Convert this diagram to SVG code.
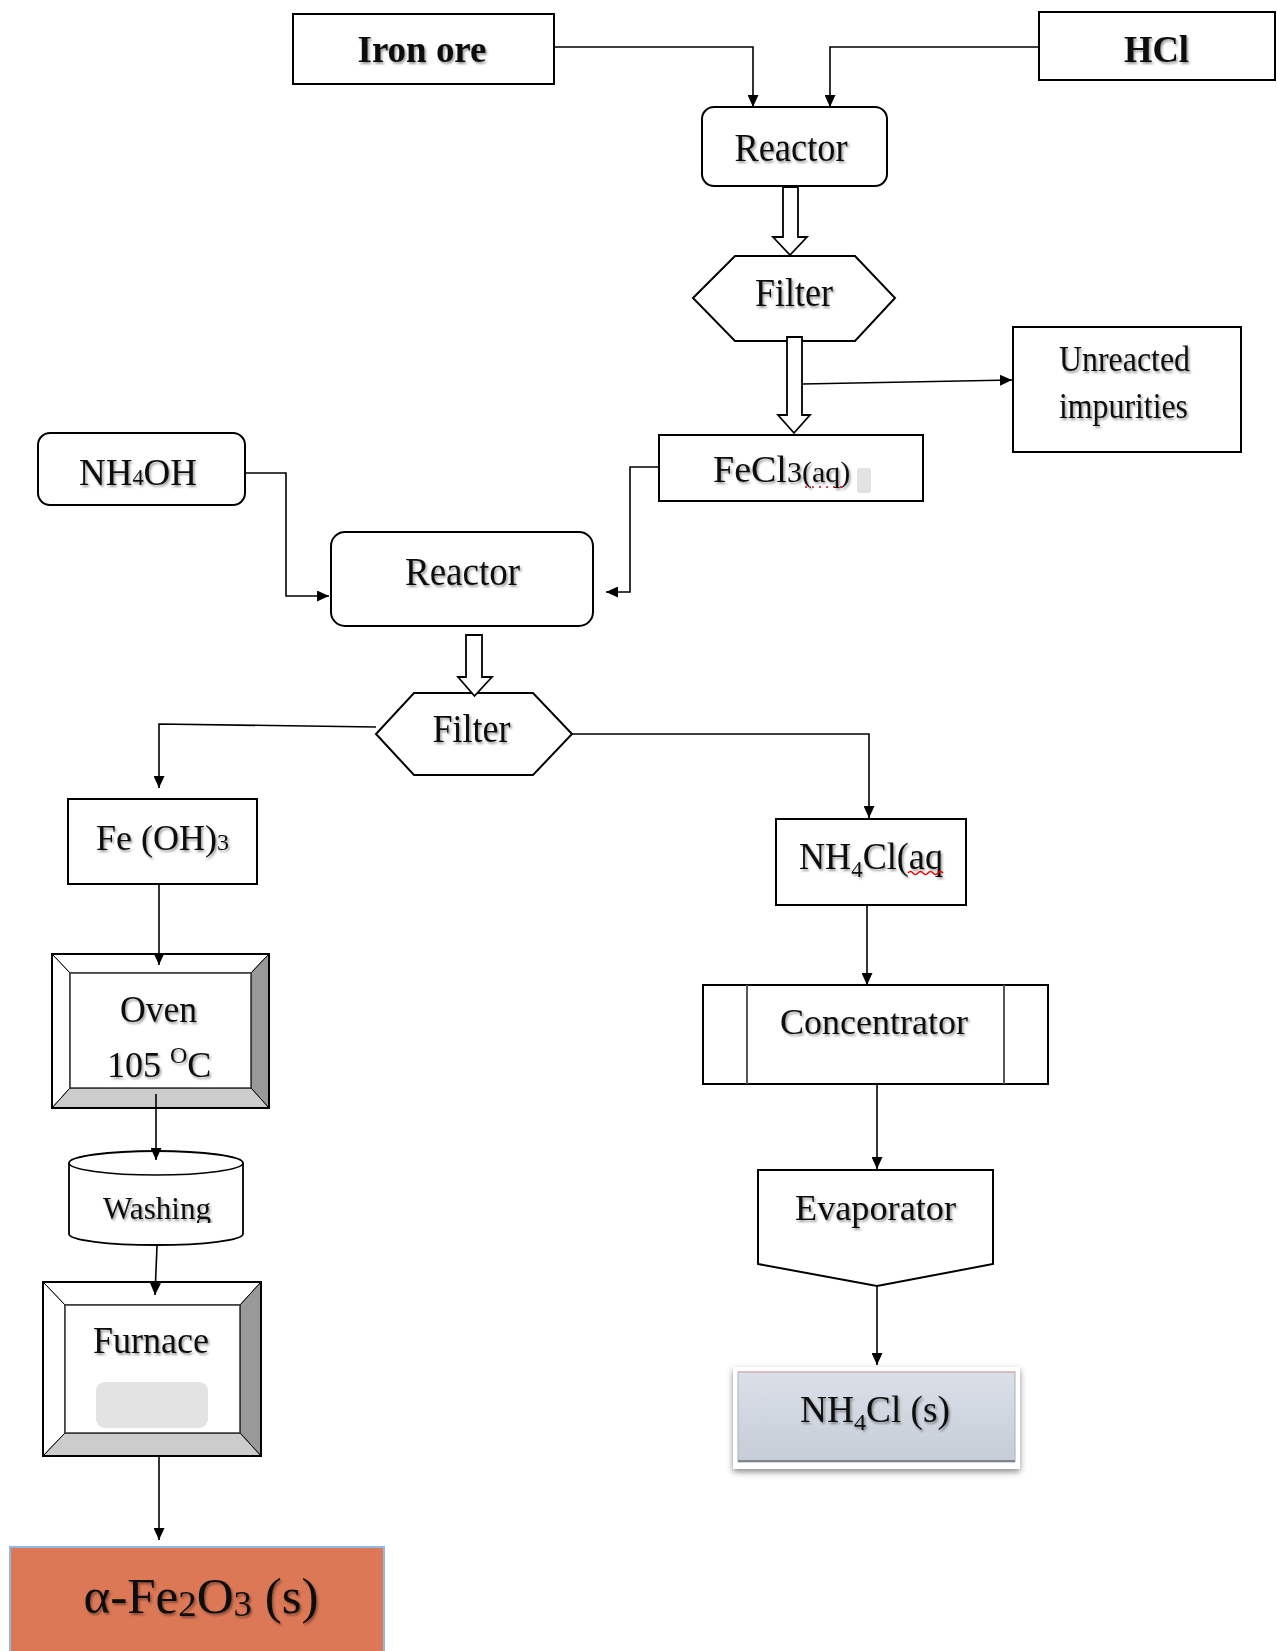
<svg xmlns="http://www.w3.org/2000/svg" width="1277" height="1651" viewBox="0 0 1277 1651">
<defs>
<style>
.box{fill:#fff;stroke:#000;stroke-width:2}
.ln{fill:none;stroke:#000;stroke-width:1.6}
.hol{fill:#fff;stroke:#000;stroke-width:1.8;stroke-linejoin:miter}
.t{font-family:"Liberation Serif","Times New Roman",serif;fill:#111;filter:url(#ts)}
.b{font-weight:bold}
.bev{stroke:#000;stroke-width:1}
</style>
<filter id="ts" x="-10%" y="-30%" width="130%" height="170%">
<feDropShadow dx="1.5" dy="2" stdDeviation="1.2" flood-color="#000" flood-opacity="0.4"/>
</filter>
<filter id="bs" x="-10%" y="-20%" width="120%" height="150%">
<feDropShadow dx="0" dy="3" stdDeviation="3" flood-color="#000" flood-opacity="0.45"/>
</filter>
<linearGradient id="gs" x1="0" y1="0" x2="0" y2="1">
<stop offset="0" stop-color="#dbe0e8"/>
<stop offset="1" stop-color="#c6cdd8"/>
</linearGradient>
<clipPath id="washclip"><rect x="60" y="1140" width="200" height="83"/></clipPath>
<marker id="ah" markerUnits="userSpaceOnUse" markerWidth="12" markerHeight="11" refX="12" refY="5.5" orient="auto">
<path d="M0,0 L12,5.5 L0,11 z" fill="#000"/>
</marker>
</defs>
<rect x="0" y="0" width="1277" height="1651" fill="#fff"/>

<g id="iron-ore">
<rect class="box" x="293" y="14" width="261" height="70"/>
<text class="t b" x="422" y="62" font-size="38" text-anchor="middle" textLength="129" lengthAdjust="spacingAndGlyphs">Iron ore</text>
</g>

<g id="hcl">
<rect class="box" x="1039" y="12" width="236" height="68"/>
<text class="t b" x="1156.5" y="62" font-size="38" text-anchor="middle" textLength="65" lengthAdjust="spacingAndGlyphs">HCl</text>
</g>

<g id="reactor1">
<rect class="box" x="702" y="107" width="185" height="79" rx="12"/>
<text class="t" x="791" y="161" font-size="39" text-anchor="middle" textLength="113" lengthAdjust="spacingAndGlyphs">Reactor</text>
</g>

<g id="filter1">
<polygon class="box" points="693,298 735,256 855,256 895,298 855,341 735,341"/>
<text class="t" x="794" y="306" font-size="39" text-anchor="middle" textLength="78" lengthAdjust="spacingAndGlyphs">Filter</text>
</g>

<g id="impurities">
<rect class="box" x="1013" y="327" width="228" height="125"/>
<text class="t" x="1124.5" y="371" font-size="36" text-anchor="middle" textLength="131" lengthAdjust="spacingAndGlyphs">Unreacted</text>
<text class="t" x="1123.5" y="418" font-size="36" text-anchor="middle" textLength="129" lengthAdjust="spacingAndGlyphs">impurities</text>
</g>

<g id="fecl3">
<rect class="box" x="659" y="435" width="264" height="66"/>
<text class="t" x="713" y="482" font-size="38">FeCl<tspan font-size="30">3(aq)</tspan></text>
<line x1="805" y1="487" x2="843" y2="487" stroke="#e00" stroke-width="1.5" stroke-dasharray="2 5"/>
<rect x="857" y="468" width="14" height="25" rx="3" fill="#e2e2e2"/>
</g>

<g id="nh4oh">
<rect class="box" x="38" y="433" width="207" height="72" rx="12"/>
<text class="t" x="138" y="485" font-size="38" text-anchor="middle" textLength="118" lengthAdjust="spacingAndGlyphs">NH<tspan font-size="23">4</tspan>OH</text>
</g>

<g id="reactor2">
<rect class="box" x="331" y="532" width="262" height="94" rx="14"/>
<text class="t" x="462.5" y="585" font-size="39" text-anchor="middle" textLength="115" lengthAdjust="spacingAndGlyphs">Reactor</text>
</g>

<g id="filter2">
<polygon class="box" points="376,734 414,693 533,693 572,734 533,775 414,775"/>
<text class="t" x="471.5" y="742" font-size="39" text-anchor="middle" textLength="78" lengthAdjust="spacingAndGlyphs">Filter</text>
</g>

<g id="feoh3">
<rect class="box" x="68" y="799" width="189" height="85"/>
<text class="t" x="96" y="850" font-size="36">Fe (OH)<tspan font-size="24">3</tspan></text>
</g>

<g id="nh4cl-aq">
<rect class="box" x="776" y="819" width="190" height="86"/>
<text class="t" x="799" y="869" font-size="38" textLength="144" lengthAdjust="spacingAndGlyphs">NH<tspan font-size="24" dy="8">4</tspan><tspan dy="-8">Cl(aq</tspan></text>
<path d="M908,873 q2.5,-3 5,0 t5,0 t5,0 t5,0 t5,0 t5,0 t5,0" fill="none" stroke="#e00" stroke-width="1.4"/>
</g>

<g id="oven">
<rect x="52" y="954" width="217" height="154" fill="#fff" stroke="#000" stroke-width="2"/>
<polygon class="bev" points="52,954 269,954 251,973 70,973" fill="#fff"/>
<polygon class="bev" points="52,954 70,973 70,1088 52,1108" fill="#fff"/>
<polygon class="bev" points="269,954 269,1108 251,1088 251,973" fill="#999"/>
<polygon class="bev" points="52,1108 70,1088 251,1088 269,1108" fill="#ccc"/>
<rect x="70" y="973" width="181" height="115" fill="#fff" stroke="#333" stroke-width="1.5"/>
<rect x="52" y="954" width="217" height="154" fill="none" stroke="#000" stroke-width="2"/>
<text class="t" x="158.5" y="1022" font-size="38" text-anchor="middle" textLength="77" lengthAdjust="spacingAndGlyphs">Oven</text>
<text class="t" x="107" y="1077" font-size="36">105 <tspan font-size="24" dy="-14">O</tspan><tspan dy="14">C</tspan></text>
</g>

<g id="washing">
<path d="M69,1163 A87,12 0 0 1 243,1163 V1234 A87,11 0 0 1 69,1234 Z" fill="#fff" stroke="#000" stroke-width="1.8"/>
<path d="M69,1163 A87,12 0 0 0 243,1163" fill="none" stroke="#000" stroke-width="1.5"/>
<g clip-path="url(#washclip)">
<text class="t" x="157" y="1218.5" font-size="32" text-anchor="middle" textLength="108" lengthAdjust="spacingAndGlyphs">Washing</text>
</g>
</g>

<g id="furnace">
<rect x="43" y="1282" width="218" height="174" fill="#fff" stroke="#000" stroke-width="2"/>
<polygon class="bev" points="43,1282 261,1282 240,1305 65,1305" fill="#fff"/>
<polygon class="bev" points="43,1282 65,1305 65,1433 43,1456" fill="#fff"/>
<polygon class="bev" points="261,1282 261,1456 240,1433 240,1305" fill="#999"/>
<polygon class="bev" points="43,1456 65,1433 240,1433 261,1456" fill="#ccc"/>
<rect x="65" y="1305" width="175" height="128" fill="#fff" stroke="#333" stroke-width="1.5"/>
<rect x="43" y="1282" width="218" height="174" fill="none" stroke="#000" stroke-width="2"/>
<text class="t" x="151" y="1352.5" font-size="38" text-anchor="middle" textLength="116" lengthAdjust="spacingAndGlyphs">Furnace</text>
<rect x="96" y="1382" width="112" height="46" rx="9" fill="#e3e3e3"/>
</g>

<g id="fe2o3">
<rect x="10" y="1547" width="374" height="110" fill="#dc7856" stroke="#8fb9e3" stroke-width="2"/>
<text class="t" x="201" y="1613" font-size="50" text-anchor="middle" textLength="235" lengthAdjust="spacingAndGlyphs">α-Fe<tspan font-size="36" dy="3">2</tspan><tspan dy="-3">O</tspan><tspan font-size="36" dy="3">3</tspan><tspan dy="-3"> (s)</tspan></text>
</g>

<g id="concentrator">
<rect class="box" x="703" y="985" width="345" height="99"/>
<line x1="747" y1="985" x2="747" y2="1084" stroke="#555" stroke-width="2"/>
<line x1="1004" y1="985" x2="1004" y2="1084" stroke="#555" stroke-width="2"/>
<text class="t" x="874" y="1034" font-size="36" text-anchor="middle" textLength="188" lengthAdjust="spacingAndGlyphs">Concentrator</text>
</g>

<g id="evaporator">
<polygon class="box" points="758,1170 993,1170 993,1264 877,1286 758,1264"/>
<text class="t" x="875.5" y="1220" font-size="36" text-anchor="middle" textLength="161" lengthAdjust="spacingAndGlyphs">Evaporator</text>
</g>

<g id="nh4cl-s">
<rect x="733" y="1367" width="287" height="102" fill="#fff" filter="url(#bs)"/>
<rect x="738" y="1372" width="277" height="90" fill="url(#gs)" stroke="#a9b0bc" stroke-width="1"/>
<line x1="738" y1="1372" x2="1015" y2="1372" stroke="#e4a9a9" stroke-width="1"/>
<line x1="738" y1="1461" x2="1015" y2="1461" stroke="#7f848d" stroke-width="2"/>
<text class="t" x="875" y="1422" font-size="37" text-anchor="middle" textLength="150" lengthAdjust="spacingAndGlyphs">NH<tspan font-size="24" dy="8">4</tspan><tspan dy="-8">Cl (s)</tspan></text>
</g>

<g id="connectors">
<path class="ln" d="M554,47 H753 V107" marker-end="url(#ah)"/>
<path class="ln" d="M1039,47 H830 V107" marker-end="url(#ah)"/>
<polygon class="hol" points="783,187 798,187 798,237 807,237 790,255 773,237 783,237"/>
<polygon class="hol" points="787,337 802,337 802,415 810,415 794,433 778,415 787,415"/>
<path class="ln" d="M802,384 L1012,380" marker-end="url(#ah)"/>
<path class="ln" d="M659,467 H630 V592 H606" marker-end="url(#ah)"/>
<path class="ln" d="M245,473 H286 V596 H329" marker-end="url(#ah)"/>
<polygon class="hol" points="466,635 482,635 482,677 492,677 474.5,696 458,677 466,677"/>
<path class="ln" d="M376,727 L159,724 V788" marker-end="url(#ah)"/>
<path class="ln" d="M572,734 H869 V818" marker-end="url(#ah)"/>
<path class="ln" d="M159,884 V965" marker-end="url(#ah)"/>
<path class="ln" d="M156,1094 V1160" marker-end="url(#ah)"/>
<path class="ln" d="M157,1246 L155,1295" marker-end="url(#ah)"/>
<path class="ln" d="M159,1456 V1540" marker-end="url(#ah)"/>
<path class="ln" d="M867,905 V985" marker-end="url(#ah)"/>
<path class="ln" d="M877,1084 V1169" marker-end="url(#ah)"/>
<path class="ln" d="M877,1286 V1365" marker-end="url(#ah)"/>
</g>
</svg>
